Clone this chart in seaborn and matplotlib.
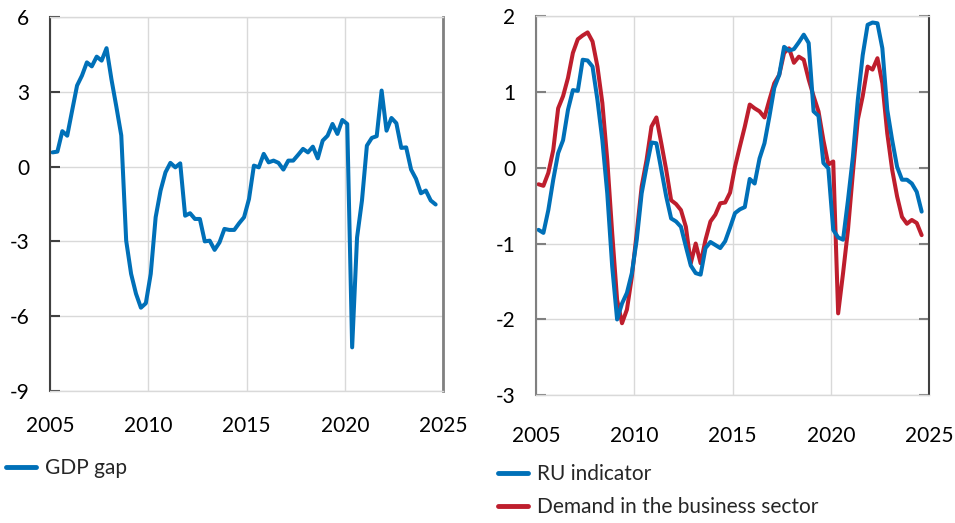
import numpy as np
import pandas as pd
import matplotlib
matplotlib.use("Agg")
import matplotlib.pyplot as plt
import seaborn as sns
from matplotlib.lines import Line2D

# Quarterly observations 2005Q1 .. 2024Q3 (plotted at mid-quarter)
start_year = 2005
n_quarters = 79

gdp_gap = [0.57, 0.60, 1.42, 1.24, 2.25, 3.25, 3.65, 4.18, 4.02, 4.41, 4.25, 4.75,
           3.50, 2.40, 1.25, -2.97, -4.30, -5.10, -5.66, -5.48, -4.30, -2.03, -0.96, -0.23,
           0.15, -0.03, 0.13, -1.97, -1.87, -2.10, -2.10, -3.00, -2.97, -3.34, -3.04, -2.50,
           -2.54, -2.54, -2.27, -2.03, -1.30, 0.04, -0.03, 0.51, 0.17, 0.24, 0.15, -0.12,
           0.24, 0.24, 0.47, 0.71, 0.57, 0.80, 0.33, 1.04, 1.24, 1.71, 1.31, 1.87,
           1.71, -7.25, -2.84, -1.36, 0.84, 1.15, 1.22, 3.05, 1.44, 1.95, 1.74, 0.75,
           0.77, -0.12, -0.49, -1.07, -0.96, -1.36, -1.52]

ru_indicator = [-0.82, -0.86, -0.56, -0.16, 0.19, 0.36, 0.76, 1.02, 1.01, 1.42, 1.41, 1.33,
                0.89, 0.36, -0.34, -1.30, -2.00, -1.79, -1.65, -1.39, -0.95, -0.34, 0.01, 0.33,
                0.32, -0.03, -0.38, -0.67, -0.71, -0.78, -1.04, -1.29, -1.39, -1.41, -1.06, -0.98,
                -1.02, -1.06, -0.97, -0.79, -0.60, -0.55, -0.52, -0.15, -0.21, 0.12, 0.32, 0.67,
                1.05, 1.22, 1.59, 1.54, 1.56, 1.65, 1.75, 1.64, 0.74, 0.68, 0.06, -0.01,
                -0.82, -0.92, -0.95, -0.43, 0.14, 0.89, 1.48, 1.88, 1.91, 1.90, 1.57, 0.76,
                0.36, 0.01, -0.16, -0.16, -0.21, -0.32, -0.58]

business_demand = [-0.22, -0.24, -0.07, 0.23, 0.78, 0.94, 1.18, 1.51, 1.69, 1.74, 1.78, 1.66,
                   1.33, 0.85, 0.10, -0.86, -1.74, -2.05, -1.87, -1.44, -0.86, -0.25, 0.10, 0.54,
                   0.66, 0.32, -0.03, -0.43, -0.48, -0.56, -0.78, -1.26, -1.00, -1.26, -0.95, -0.71,
                   -0.62, -0.47, -0.46, -0.33, 0.01, 0.28, 0.54, 0.83, 0.78, 0.74, 0.66, 0.89,
                   1.11, 1.22, 1.51, 1.57, 1.38, 1.46, 1.42, 1.16, 0.94, 0.74, 0.36, 0.04,
                   0.08, -1.92, -1.39, -0.82, -0.07, 0.63, 0.94, 1.33, 1.29, 1.44, 1.11, 0.45,
                   -0.03, -0.38, -0.65, -0.74, -0.69, -0.73, -0.89]

x_ticks = [2005, 2010, 2015, 2020, 2025]
left_yticks = [6, 3, 0, -3, -6, -9]
right_yticks = [2, 1, 0, -1, -2, -3]

label_gdp = "GDP gap"
label_ru = "RU indicator"
label_dem = "Demand in the business sector"

BLUE = "#0070b8"
RED = "#be1e2d"
GRID = "#d9d9d9"
DARK = "#404040"
MID = "#808080"

time = start_year + (np.arange(n_quarters) + 0.5) / 4.0
df_left = pd.DataFrame({"time": time, "value": gdp_gap, "series": label_gdp})
df_right = pd.concat([
    pd.DataFrame({"time": time, "value": ru_indicator, "series": label_ru}),
    pd.DataFrame({"time": time, "value": business_demand, "series": label_dem}),
])

sns.set_theme(style="white")
plt.rcParams["font.family"] = ["Lato", "DejaVu Sans"]
FS = 15

fig = plt.figure(figsize=(9.55, 5.23), dpi=100)
ax1 = fig.add_axes([0.0524, 0.2524, 0.4115, 0.7151])
ax2 = fig.add_axes([0.5613, 0.2440, 0.4115, 0.7260])

sns.lineplot(data=df_left, x="time", y="value", hue="series", palette=[BLUE],
             linewidth=2.9, ax=ax1, legend=False)
sns.lineplot(data=df_right, x="time", y="value", hue="series", palette=[RED, BLUE],
             hue_order=[label_dem, label_ru], linewidth=2.9, ax=ax2, legend=False)


def style(ax, yticks, left_color, right_color, right_ticks, xpad):
    ax.set_xlim(x_ticks[0], x_ticks[-1])
    ax.set_ylim(min(yticks), max(yticks))
    ax.set_xticks(x_ticks)
    ax.set_yticks(yticks)
    ax.set_yticklabels([str(v) for v in yticks])
    ax.set_xlabel("")
    ax.set_ylabel("")
    ax.grid(True, color=GRID, linewidth=1.0)
    ax.set_axisbelow(True)
    for s in ["top", "bottom"]:
        ax.spines[s].set_color(GRID)
        ax.spines[s].set_linewidth(1.0)
    ax.spines["left"].set_color(left_color)
    ax.spines["left"].set_linewidth(1.5)
    ax.spines["right"].set_color(right_color)
    ax.spines["right"].set_linewidth(2.0 if right_color == MID else 1.5)
    ax.tick_params(axis="x", length=0, pad=xpad, labelsize=FS, labelcolor="black")
    ax.tick_params(axis="y", direction="in", length=7, width=1.5, color=left_color,
                   pad=15, labelsize=FS, labelcolor="black", left=True,
                   right=right_ticks)
    if right_ticks:
        ax.tick_params(axis="y", which="both", right=True, labelright=False)
        for t in ax.yaxis.get_major_ticks():
            t.tick2line.set_color(right_color)


style(ax1, left_yticks, DARK, MID, False, 18)
style(ax2, right_yticks, MID, DARK, True, 22)

# Legends
h_gdp = [Line2D([], [], color=BLUE, linewidth=3.5)]
fig.legend(h_gdp, [label_gdp], loc="center left", bbox_to_anchor=(0.006, 0.105),
           frameon=False, fontsize=FS, handlelength=1.45, handletextpad=0.45,
           borderpad=0, borderaxespad=0)
h_r = [Line2D([], [], color=BLUE, linewidth=3.5), Line2D([], [], color=RED, linewidth=3.5)]
fig.legend(h_r, [label_ru, label_dem], loc="center left", bbox_to_anchor=(0.521, 0.0621),
           frameon=False, fontsize=FS, handlelength=1.45, handletextpad=0.45,
           borderpad=0, borderaxespad=0, labelspacing=0.62)

fig.savefig("out.png", dpi=100)
